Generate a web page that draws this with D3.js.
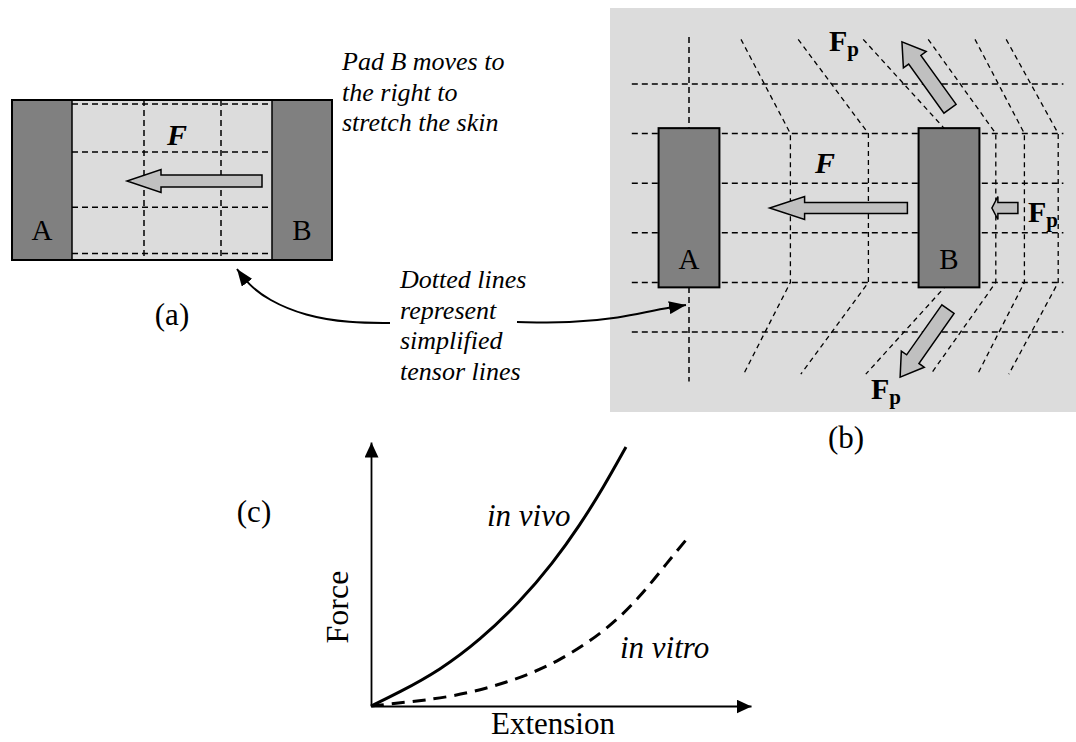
<!DOCTYPE html>
<html>
<head>
<meta charset="utf-8">
<script src="https://cdn.jsdelivr.net/npm/d3@7"></script>
<style>
  body { margin: 0; background: #fff; }
  svg text { font-family: "Liberation Serif", "Times New Roman", serif; fill: #000; }
</style>
</head>
<body>
<div id="chart"></div>
<script>

//--- Daten ---------------------------------------------------------------------------------- //

// (a) skin between the pads, fractions of the gap
var gridARows = [0.025, 0.325, 0.67, 0.96];
var gridACols = [0.36, 0.745];

// (b) tensor lines, A centre = 0, B centre = 1, rows 0..5
var gridBRows = [0, 1, 2, 3, 4, 5];
var tensorCols = [0.39, 0.69, 1.0, 1.18, 1.29, 1.42];
var tensorTop = [0.20, 0.42, 0.67, 0.92, 1.10, 1.22];
var tensorBot = [0.21, 0.43, 0.68, 0.93, 1.11, 1.23];

// (c) force / extension curves
var vivoExt = [0, 0.071, 0.182, 0.287, 0.392, 0.479, 0.55, 0.611, 0.671];
var vivoForce = [0, 0.049, 0.136, 0.25, 0.394, 0.542, 0.686, 0.826, 0.981];
var vitroExt = [0, 0.071, 0.216, 0.358, 0.49, 0.621, 0.708, 0.779, 0.84];
var vitroForce = [0, 0.011, 0.034, 0.087, 0.163, 0.288, 0.413, 0.542, 0.648];

var Colors = {
    skin: '#dcdcdc',
    pad: '#808080',
    arrow: '#c0c0c0'
};

var svg = d3.select('#chart').append('svg')
    .attr('width', 1076)
    .attr('height', 742);

var defs = svg.append('defs');

function addMarker(id, len, half) {
    defs.append('marker')
        .attr('id', id)
        .attr('markerUnits', 'userSpaceOnUse')
        .attr('viewBox', '0 ' + (-half) + ' ' + len + ' ' + (2 * half))
        .attr('refX', len)
        .attr('refY', 0)
        .attr('markerWidth', len)
        .attr('markerHeight', 2 * half)
        .attr('orient', 'auto')
        .append('path')
        .attr('d', 'M0,' + (-half) + 'L' + len + ',0L0,' + half + 'Z')
        .attr('fill', '#000');
}
addMarker('axisHead', 15, 7);
addMarker('noteHead', 17, 6.5);

// block arrow polygon from tail to tip
function blockArrow(g, tail, tip, w, h, L) {
    var dx = tip[0] - tail[0], dy = tip[1] - tail[1];
    var len = Math.sqrt(dx * dx + dy * dy);
    var ux = dx / len, uy = dy / len;
    var nx = -uy, ny = ux;
    var bx = tip[0] - ux * L, by = tip[1] - uy * L;
    var pts = [
        [tail[0] + nx * w, tail[1] + ny * w],
        [bx + nx * w, by + ny * w],
        [bx + nx * h, by + ny * h],
        tip,
        [bx - nx * h, by - ny * h],
        [bx - nx * w, by - ny * w],
        [tail[0] - nx * w, tail[1] - ny * w]
    ];
    g.append('polygon')
        .attr('points', pts.map(function (p) { return p.join(','); }).join(' '))
        .attr('fill', Colors.arrow)
        .attr('stroke', '#000')
        .attr('stroke-width', 1.5);
}

function fpLabel(x, y) {
    var t = svg.append('text')
        .attr('x', x)
        .attr('y', y)
        .attr('font-size', '30px')
        .attr('font-weight', 'bold');
    t.append('tspan').text('F');
    t.append('tspan').attr('font-size', '21px').attr('dy', 5).text('p');
}

//--- Panel (a) ------------------------------------------------------------------------------ //

var ax = d3.scaleLinear().domain([0, 1]).range([72, 272]);
var ay = d3.scaleLinear().domain([0, 1]).range([100, 260]);

var gA = svg.append('g').attr('id', 'panelA');

gA.append('rect')
    .attr('x', ax(0)).attr('y', ay(0))
    .attr('width', ax(1) - ax(0)).attr('height', ay(1) - ay(0))
    .attr('fill', Colors.skin);

gA.selectAll('.rowA').data(gridARows).enter().append('line')
    .attr('x1', ax(0)).attr('x2', ax(1))
    .attr('y1', function (d) { return ay(d); })
    .attr('y2', function (d) { return ay(d); })
    .attr('stroke', '#000').attr('stroke-width', 1.5).attr('stroke-dasharray', '6,4');

gA.selectAll('.colA').data(gridACols).enter().append('line')
    .attr('y1', ay(0)).attr('y2', ay(1))
    .attr('x1', function (d) { return ax(d); })
    .attr('x2', function (d) { return ax(d); })
    .attr('stroke', '#000').attr('stroke-width', 1.5).attr('stroke-dasharray', '6,4');

[[-0.3, 0], [1, 1.3]].forEach(function (p) {
    gA.append('rect')
        .attr('x', ax(p[0])).attr('y', ay(0))
        .attr('width', ax(p[1]) - ax(p[0])).attr('height', ay(1) - ay(0))
        .attr('fill', Colors.pad);
});

gA.append('rect')
    .attr('x', ax(-0.3)).attr('y', ay(0))
    .attr('width', ax(1.3) - ax(-0.3)).attr('height', ay(1) - ay(0))
    .attr('fill', 'none').attr('stroke', '#000').attr('stroke-width', 2);
[0, 1].forEach(function (d) {
    gA.append('line')
        .attr('x1', ax(d)).attr('x2', ax(d)).attr('y1', ay(0)).attr('y2', ay(1))
        .attr('stroke', '#000').attr('stroke-width', 1.5);
});

blockArrow(gA, [ax(0.95), ay(0.506)], [ax(0.275), ay(0.506)], 6, 11.5, 34);

gA.append('text').attr('x', 42).attr('y', 240).attr('font-size', '29px')
    .attr('text-anchor', 'middle').text('A');
gA.append('text').attr('x', 302).attr('y', 240).attr('font-size', '29px')
    .attr('text-anchor', 'middle').text('B');
gA.append('text').attr('x', 177).attr('y', 145).attr('font-size', '30px')
    .attr('font-weight', 'bold').attr('font-style', 'italic')
    .attr('text-anchor', 'middle').text('F');

svg.append('text').attr('x', 172).attr('y', 325).attr('font-size', '31px')
    .attr('text-anchor', 'middle').text('(a)');

var padNote = ['Pad B moves to', 'the right to', 'stretch the skin'];
svg.selectAll('.padNote').data(padNote).enter().append('text')
    .attr('x', 342)
    .attr('y', function (d, i) { return 70 + i * 30.5; })
    .attr('font-size', '26px').attr('font-style', 'italic')
    .text(function (d) { return d; });

//--- Panel (b) ------------------------------------------------------------------------------ //

var bx = d3.scaleLinear().domain([0, 1]).range([689, 949]);
var by = d3.scaleLinear().domain([0, 5]).range([84, 332]);

var gB = svg.append('g').attr('id', 'panelB');

gB.append('rect')
    .attr('x', 610).attr('y', 8).attr('width', 466).attr('height', 404)
    .attr('fill', Colors.skin);

gB.selectAll('.rowB').data(gridBRows).enter().append('line')
    .attr('x1', bx(-0.22)).attr('x2', bx(1.44))
    .attr('y1', function (d) { return by(d); })
    .attr('y2', function (d) { return by(d); })
    .attr('stroke', '#000').attr('stroke-width', 1.5).attr('stroke-dasharray', '6,4');

gB.append('line')
    .attr('x1', bx(0)).attr('x2', bx(0)).attr('y1', by(-0.95)).attr('y2', by(6.0))
    .attr('stroke', '#000').attr('stroke-width', 1.5).attr('stroke-dasharray', '6,4');

var tensorLine = d3.line()
    .x(function (d) { return bx(d[0]); })
    .y(function (d) { return by(d[1]); });

tensorCols.forEach(function (c, i) {
    gB.append('path')
        .attr('d', tensorLine([[tensorTop[i], -0.9], [c, 1], [c, 4], [tensorBot[i], 5.85]]))
        .attr('fill', 'none')
        .attr('stroke', '#000').attr('stroke-width', 1.3).attr('stroke-dasharray', '5,4');
});

[0, 1].forEach(function (c) {
    gB.append('rect')
        .attr('x', bx(c - 0.117)).attr('y', by(0.89))
        .attr('width', bx(c + 0.117) - bx(c - 0.117)).attr('height', by(4.1) - by(0.89))
        .attr('fill', Colors.pad).attr('stroke', '#000').attr('stroke-width', 2);
});

blockArrow(gB, [bx(0.84), by(2.5)], [bx(0.31), by(2.5)], 5.5, 11.5, 35);
blockArrow(gB, [bx(1.265), by(2.5)], [bx(1.165), by(2.5)], 5.5, 11.5, 6);
blockArrow(gB, [bx(1.004), by(0.5)], [bx(0.819), by(-0.85)], 7.5, 14, 22);
blockArrow(gB, [bx(0.996), by(4.54)], [bx(0.812), by(5.91)], 7.5, 14, 22);

gB.append('text').attr('x', bx(0)).attr('y', 269).attr('font-size', '29px')
    .attr('text-anchor', 'middle').text('A');
gB.append('text').attr('x', bx(1)).attr('y', 269).attr('font-size', '29px')
    .attr('text-anchor', 'middle').text('B');
gB.append('text').attr('x', 825).attr('y', 173).attr('font-size', '30px')
    .attr('font-weight', 'bold').attr('font-style', 'italic')
    .attr('text-anchor', 'middle').text('F');

fpLabel(829, 51);
fpLabel(1028, 222);
fpLabel(871, 399);

svg.append('text').attr('x', 846).attr('y', 448).attr('font-size', '31px')
    .attr('text-anchor', 'middle').text('(b)');

//--- Notiz mit Pfeilen ----------------------------------------------------------------------- //

var tensorNote = ['Dotted lines', 'represent', 'simplified', 'tensor lines'];
svg.selectAll('.tensorNote').data(tensorNote).enter().append('text')
    .attr('x', 400)
    .attr('y', function (d, i) { return 288 + i * 30.5; })
    .attr('font-size', '26px').attr('font-style', 'italic')
    .text(function (d) { return d; });

var noteCurve = d3.line().curve(d3.curveBasis);

svg.append('path')
    .attr('d', noteCurve([[390, 323], [350, 323], [305, 316], [268, 300], [248, 284], [237, 269]]))
    .attr('fill', 'none').attr('stroke', '#000').attr('stroke-width', 2)
    .attr('marker-end', 'url(#noteHead)');

svg.append('path')
    .attr('d', noteCurve([[517, 322], [570, 323], [620, 318], [655, 310], [686, 305]]))
    .attr('fill', 'none').attr('stroke', '#000').attr('stroke-width', 2)
    .attr('marker-end', 'url(#noteHead)');

//--- Panel (c) ------------------------------------------------------------------------------ //

var cx = d3.scaleLinear().domain([0, 1]).range([371, 751]);
var cy = d3.scaleLinear().domain([0, 1]).range([706, 442]);

var gC = svg.append('g').attr('id', 'panelC');

gC.append('g')
    .attr('transform', 'translate(0,' + cy(0) + ')')
    .call(d3.axisBottom(cx).tickValues([]).tickSizeOuter(0));
gC.append('g')
    .attr('transform', 'translate(' + cx(0) + ',0)')
    .call(d3.axisLeft(cy).tickValues([]).tickSizeOuter(0));

gC.selectAll('.domain')
    .attr('stroke', '#000').attr('stroke-width', 1.8)
    .attr('marker-end', 'url(#axisHead)');

var curve = d3.line()
    .x(function (d) { return cx(d[0]); })
    .y(function (d) { return cy(d[1]); })
    .curve(d3.curveBasis);

gC.append('path')
    .attr('d', curve(d3.zip(vivoExt, vivoForce)))
    .attr('fill', 'none').attr('stroke', '#000').attr('stroke-width', 3);

gC.append('path')
    .attr('d', curve(d3.zip(vitroExt, vitroForce)))
    .attr('fill', 'none').attr('stroke', '#000').attr('stroke-width', 3)
    .attr('stroke-dasharray', '13,8');

gC.append('text').attr('x', 487).attr('y', 526).attr('font-size', '31px')
    .attr('font-style', 'italic').text('in vivo');
gC.append('text').attr('x', 620).attr('y', 658).attr('font-size', '31px')
    .attr('font-style', 'italic').text('in vitro');
gC.append('text').attr('x', 553).attr('y', 734).attr('font-size', '31px')
    .attr('text-anchor', 'middle').text('Extension');
gC.append('text').attr('transform', 'translate(348,607) rotate(-90)')
    .attr('font-size', '32px').attr('text-anchor', 'middle').text('Force');

svg.append('text').attr('x', 254).attr('y', 522).attr('font-size', '31px')
    .attr('text-anchor', 'middle').text('(c)');

</script>
</body>
</html>
